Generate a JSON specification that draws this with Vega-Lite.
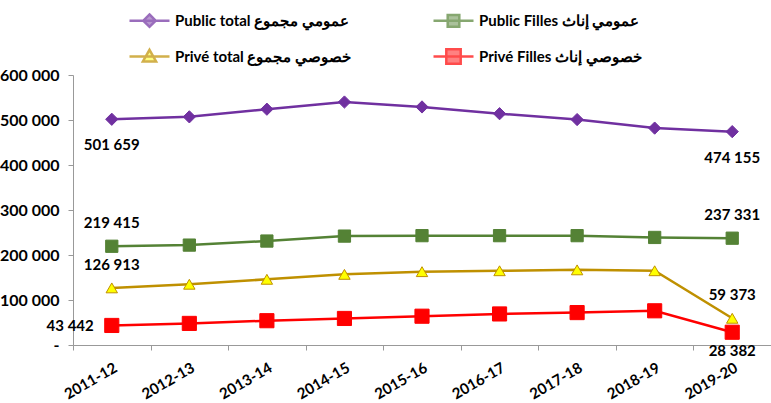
{
  "$schema": "https://vega.github.io/schema/vega-lite/v6.json",
  "autosize": {"type": "none"},
  "padding": {"left": 73, "top": 75, "right": 0, "bottom": 58},
  "width": 698,
  "height": 270,
  "background": "white",
  "config": {
    "view": {"stroke": null},
    "locale": {"number": {"decimal": ",", "thousands": " ", "grouping": [3], "currency": ["", ""]}},
    "font": "Lato"
  },
  "data": {
    "values": [
      {"year": "2011-12", "series": "Public total", "value": 501659},
      {"year": "2012-13", "series": "Public total", "value": 507000},
      {"year": "2013-14", "series": "Public total", "value": 524000},
      {"year": "2014-15", "series": "Public total", "value": 540000},
      {"year": "2015-16", "series": "Public total", "value": 529000},
      {"year": "2016-17", "series": "Public total", "value": 514000},
      {"year": "2017-18", "series": "Public total", "value": 501000},
      {"year": "2018-19", "series": "Public total", "value": 482000},
      {"year": "2019-20", "series": "Public total", "value": 474155},
      {"year": "2011-12", "series": "Public Filles", "value": 219415},
      {"year": "2012-13", "series": "Public Filles", "value": 222000},
      {"year": "2013-14", "series": "Public Filles", "value": 231000},
      {"year": "2014-15", "series": "Public Filles", "value": 242000},
      {"year": "2015-16", "series": "Public Filles", "value": 243000},
      {"year": "2016-17", "series": "Public Filles", "value": 243000},
      {"year": "2017-18", "series": "Public Filles", "value": 243000},
      {"year": "2018-19", "series": "Public Filles", "value": 239000},
      {"year": "2019-20", "series": "Public Filles", "value": 237331},
      {"year": "2011-12", "series": "Privé total", "value": 126913},
      {"year": "2012-13", "series": "Privé total", "value": 135000},
      {"year": "2013-14", "series": "Privé total", "value": 146000},
      {"year": "2014-15", "series": "Privé total", "value": 157000},
      {"year": "2015-16", "series": "Privé total", "value": 163000},
      {"year": "2016-17", "series": "Privé total", "value": 165000},
      {"year": "2017-18", "series": "Privé total", "value": 167000},
      {"year": "2018-19", "series": "Privé total", "value": 165000},
      {"year": "2019-20", "series": "Privé total", "value": 59373},
      {"year": "2011-12", "series": "Privé Filles", "value": 43442},
      {"year": "2012-13", "series": "Privé Filles", "value": 48000},
      {"year": "2013-14", "series": "Privé Filles", "value": 54000},
      {"year": "2014-15", "series": "Privé Filles", "value": 59000},
      {"year": "2015-16", "series": "Privé Filles", "value": 64000},
      {"year": "2016-17", "series": "Privé Filles", "value": 69000},
      {"year": "2017-18", "series": "Privé Filles", "value": 72000},
      {"year": "2018-19", "series": "Privé Filles", "value": 76000},
      {"year": "2019-20", "series": "Privé Filles", "value": 28382}
    ]
  },
  "encoding": {
    "x": {"field": "year", "type": "nominal", "scale": {"type": "band", "paddingInner": 0, "paddingOuter": 0}, "title": null,
      "axis": {"labelAngle": -30, "labelFont": "Lato", "labelFontSize": 15, "labelFontWeight": "bold", "labelColor": "black", "labelPadding": 10, "tickBand": "extent", "tickSize": 5, "tickColor": "#999999", "domainColor": "#999999", "grid": false}},
    "y": {"field": "value", "type": "quantitative", "scale": {"domain": [0, 600000], "nice": false}, "title": null,
      "axis": {"values": [0, 100000, 200000, 300000, 400000, 500000, 600000], "format": ",d", "labelExpr": "datum.value === 0 ? '-' : datum.label", "labelFont": "Lato", "labelFontSize": 16, "labelFontWeight": "bold", "labelColor": "black", "labelPadding": 9, "tickSize": 5, "tickColor": "#999999", "domainColor": "#999999", "grid": false}}
  },
  "layer": [
    {
      "mark": {"type": "line", "strokeWidth": 2.5},
      "encoding": {
        "color": {"field": "series", "type": "nominal", "legend": null,
          "scale": {"domain": ["Privé Filles", "Privé total", "Public Filles", "Public total"], "range": ["#FF0000", "#BF9000", "#548235", "#7030A0"]}},
        "detail": {"field": "series"}
      }
    },
    {
      "transform": [{"filter": "datum.series === 'Public total'"}],
      "mark": {"type": "point", "shape": "diamond", "filled": true, "fill": "#7030A0", "stroke": "#7030A0", "strokeWidth": 1, "size": 150, "opacity": 1}
    },
    {
      "transform": [{"filter": "datum.series === 'Public Filles'"}],
      "mark": {"type": "point", "shape": "square", "filled": true, "fill": "#548235", "stroke": "#548235", "strokeWidth": 1, "size": 150, "opacity": 1}
    },
    {
      "transform": [{"filter": "datum.series === 'Privé total'"}],
      "mark": {"type": "point", "shape": "triangle-up", "filled": true, "fill": "#FFFF00", "stroke": "#BF9000", "strokeWidth": 1, "size": 130, "opacity": 1}
    },
    {
      "transform": [{"filter": "datum.series === 'Privé Filles'"}],
      "mark": {"type": "point", "shape": "square", "filled": true, "fill": "#FF0000", "stroke": "#FF0000", "strokeWidth": 1, "size": 200, "opacity": 1}
    },
    {
      "transform": [{"filter": "false"}],
      "mark": {"type": "point", "filled": true, "strokeWidth": 2.5},
      "encoding": {
        "fill": {"field": "series", "type": "nominal",
          "scale": {"domain": ["Public total", "Public Filles", "Privé total", "Privé Filles"], "range": ["#7030A0", "#548235", "#FFFF00", "#FF0000"]},
          "legend": {
            "orient": "none", "legendX": 65, "legendY": -66, "direction": "horizontal", "columns": 2,
            "title": null, "labelFont": "Lato", "labelFontSize": 15, "labelFontWeight": "bold", "labelColor": "black",
            "labelLimit": 0, "labelOffset": 14, "columnPadding": 76, "rowPadding": 12, "symbolSize": 400, "symbolStrokeWidth": 2.5,
            "labelExpr": "datum.value === 'Public total' ? 'Public total عمومي مجموع' : datum.value === 'Public Filles' ? 'Public Filles  عمومي إناث' : datum.value === 'Privé total' ? 'Privé total خصوصي مجموع' : 'Privé Filles خصوصي إناث'"
          }},
        "stroke": {"field": "series", "type": "nominal",
          "scale": {"domain": ["Public total", "Public Filles", "Privé total", "Privé Filles"], "range": ["#7030A0", "#548235", "#BF9000", "#FF0000"]},
          "legend": {
            "orient": "none", "legendX": 65, "legendY": -66, "direction": "horizontal", "columns": 2,
            "title": null, "labelFont": "Lato", "labelFontSize": 15, "labelFontWeight": "bold", "labelColor": "black",
            "labelLimit": 0, "labelOffset": 14, "columnPadding": 76, "rowPadding": 12, "symbolSize": 400, "symbolStrokeWidth": 2.5,
            "labelExpr": "datum.value === 'Public total' ? 'Public total عمومي مجموع' : datum.value === 'Public Filles' ? 'Public Filles  عمومي إناث' : datum.value === 'Privé total' ? 'Privé total خصوصي مجموع' : 'Privé Filles خصوصي إناث'"
          }},
        "shape": {"field": "series", "type": "nominal",
          "scale": {"domain": ["Public total", "Public Filles", "Privé total", "Privé Filles"],
            "range": ["M-2,0L2,0M0,-0.62L0.62,0L0,0.62L-0.62,0Z", "M-2,0L2,0M-0.58,-0.58L0.58,-0.58L0.58,0.58L-0.58,0.58Z", "M-2,0L2,0M0,-0.66L0.66,0.5L-0.66,0.5Z", "M-2,0L2,0M-0.72,-0.72L0.72,-0.72L0.72,0.72L-0.72,0.72Z"]},
          "legend": {
            "orient": "none", "legendX": 65, "legendY": -66, "direction": "horizontal", "columns": 2,
            "title": null, "labelFont": "Lato", "labelFontSize": 15, "labelFontWeight": "bold", "labelColor": "black",
            "labelLimit": 0, "labelOffset": 14, "columnPadding": 76, "rowPadding": 12, "symbolSize": 400, "symbolStrokeWidth": 2.5,
            "labelExpr": "datum.value === 'Public total' ? 'Public total عمومي مجموع' : datum.value === 'Public Filles' ? 'Public Filles  عمومي إناث' : datum.value === 'Privé total' ? 'Privé total خصوصي مجموع' : 'Privé Filles خصوصي إناث'"
          }}
      }
    },
    {
      "transform": [{"filter": "(datum.series === 'Public Filles' || datum.series === 'Privé total') && (datum.year === '2011-12' || datum.year === '2019-20')"}],
      "mark": {"type": "text", "dy": -23, "font": "Lato", "fontSize": 15, "fontWeight": "bold", "color": "black"},
      "encoding": {"text": {"field": "value", "type": "quantitative", "format": ",d"}}
    },
    {
      "transform": [{"filter": "datum.series === 'Public total' && (datum.year === '2011-12' || datum.year === '2019-20')"}],
      "mark": {"type": "text", "dy": 26, "font": "Lato", "fontSize": 15, "fontWeight": "bold", "color": "black"},
      "encoding": {"text": {"field": "value", "type": "quantitative", "format": ",d"}}
    },
    {
      "transform": [{"filter": "datum.series === 'Privé Filles' && datum.year === '2019-20'"}],
      "mark": {"type": "text", "dy": 19, "font": "Lato", "fontSize": 15, "fontWeight": "bold", "color": "black"},
      "encoding": {"text": {"field": "value", "type": "quantitative", "format": ",d"}}
    },
    {
      "transform": [{"filter": "datum.series === 'Privé Filles' && datum.year === '2011-12'"}],
      "mark": {"type": "text", "dy": 1, "dx": -18, "align": "right", "font": "Lato", "fontSize": 15, "fontWeight": "bold", "color": "black"},
      "encoding": {"text": {"field": "value", "type": "quantitative", "format": ",d"}}
    }
  ]
}
